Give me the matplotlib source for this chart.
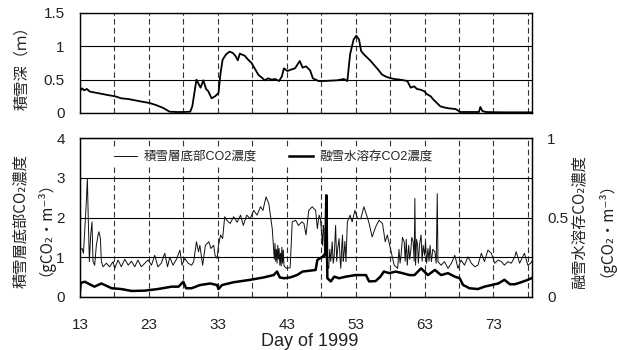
import matplotlib
matplotlib.use("Agg")
import matplotlib.pyplot as plt
import numpy as np

plt.rcParams['font.family'] = ['Liberation Sans', 'Noto Sans CJK JP', 'DejaVu Sans']
cjk = ['Noto Sans CJK JP', 'DejaVu Sans']

# ---- data ----
# snow depth (m)
snow_day = [13.0, 13.3, 13.6, 14.0, 14.45, 15.0, 16.0, 17.0, 18.1, 19.0, 20.0, 21.0, 22.0,
            23.1, 24.0, 25.0, 25.5, 26.0, 27.0, 28.0, 29.0, 29.3, 29.6, 29.9, 30.2, 30.5,
            30.9, 31.3, 31.6, 32.1, 32.6, 33.1, 33.4, 33.7, 34.2, 34.7, 35.2, 35.6, 35.9,
            36.2, 36.9, 37.4, 37.9, 38.4, 38.9, 39.4, 39.8, 40.3, 40.8, 41.3, 41.9, 42.3,
            42.6, 43.1, 43.6, 44.2, 44.9, 45.3, 45.8, 46.4, 46.8, 47.6, 48.5, 49.3, 50.3,
            51.3, 51.8, 52.2, 52.7, 53.1, 53.5, 53.8, 54.2, 54.7, 55.2, 55.6, 56.2, 56.8,
            57.3, 57.8, 58.6, 59.5, 60.5, 61.0, 61.5, 61.9, 62.4, 62.9, 63.4, 63.9, 64.3,
            64.8, 65.3, 65.8, 66.5, 67.5, 68.2, 69.0, 70.0, 70.9, 71.1, 71.4, 71.9, 73.0,
            75.0, 77.0, 78.6]
snow_depth = [0.33, 0.37, 0.34, 0.36, 0.32, 0.31, 0.29, 0.27, 0.25, 0.22, 0.21, 0.19, 0.17,
              0.15, 0.12, 0.08, 0.05, 0.02, 0.015, 0.015, 0.02, 0.10, 0.30, 0.50, 0.44, 0.38,
              0.49, 0.36, 0.33, 0.22, 0.25, 0.30, 0.60, 0.80, 0.88, 0.92, 0.90, 0.85, 0.79,
              0.89, 0.86, 0.80, 0.75, 0.66, 0.57, 0.53, 0.49, 0.52, 0.50, 0.51, 0.48, 0.55,
              0.67, 0.63, 0.65, 0.67, 0.78, 0.68, 0.70, 0.64, 0.52, 0.48, 0.48, 0.485, 0.49,
              0.51, 0.48, 0.88, 1.10, 1.16, 1.10, 0.93, 0.88, 0.83, 0.78, 0.73, 0.66, 0.58,
              0.55, 0.53, 0.51, 0.50, 0.48, 0.38, 0.40, 0.36, 0.35, 0.33, 0.28, 0.25, 0.20,
              0.15, 0.10, 0.085, 0.07, 0.06, 0.015, 0.015, 0.015, 0.015, 0.09, 0.03, 0.015,
              0.012, 0.01, 0.01, 0.01]

# CO2 at the base of the snowpack (gCO2/m3, left axis)
base_day = [13.0, 13.3, 13.5, 13.68, 13.92, 14.07, 14.2, 14.36, 14.55, 14.74, 14.89, 15.13,
            15.37, 15.62, 15.76, 15.96, 16.1, 16.34, 16.83, 17.3, 17.8, 18.04, 18.52, 19.0,
            19.5, 20.0, 20.46, 20.95, 21.4, 21.9, 22.4, 22.9, 23.37, 23.85, 24.3, 24.8,
            25.3, 25.7, 26.03, 26.5, 27.0, 27.5, 27.8, 28.2, 28.7, 29.2, 29.5, 29.9, 30.2,
            30.4, 30.8, 31.2, 31.7, 32.0, 32.4, 32.6, 32.9, 33.1, 33.4, 33.7, 34.0, 34.3,
            34.8, 35.3, 35.8, 36.3, 36.7, 37.2, 37.7, 38.2, 38.7, 39.2, 39.55, 40.0, 40.4,
            40.9, 41.1, 41.2, 41.3, 41.4, 41.5, 41.6, 41.7, 41.8, 41.9, 42.0, 42.1, 42.2,
            42.3, 42.4, 42.5, 42.6, 42.7, 43.0, 43.5, 43.8, 44.3, 44.7, 45.2, 45.5, 45.8,
            46.2, 46.7, 47.2, 47.45, 47.7, 47.9, 48.2, 48.3, 48.4, 48.5, 48.66, 48.8, 48.9,
            49.1, 49.25, 49.4, 49.6, 49.75, 49.9, 50.1, 50.25, 50.4, 50.6, 50.75, 50.85,
            51.0, 51.1, 51.2, 51.3, 51.45, 51.6, 51.8, 52.2, 52.5, 52.9, 53.3, 53.75, 54.2,
            54.6, 54.96, 55.4, 55.9, 56.4, 56.9, 57.3, 57.6, 58.1, 58.6, 59.1, 59.3, 59.45,
            59.6, 59.8, 60.05, 60.2, 60.35, 60.5, 60.7, 60.85, 61.0, 61.15, 61.35, 61.5,
            61.6, 61.7, 61.85, 62.0, 62.1, 62.3, 62.5, 62.65, 62.8, 63.0, 63.15, 63.3, 63.5,
            63.65, 63.8, 64.0, 64.2, 64.5, 64.7, 64.85, 64.95, 65.4, 65.9, 66.4, 66.9, 67.4,
            67.85, 68.3, 68.8, 69.3, 69.8, 70.3, 70.75, 71.25, 71.7, 72.2, 72.7, 73.2, 73.7,
            74.15, 74.6, 75.1, 75.6, 76.1, 76.3, 76.8, 77.5, 78.0, 78.4, 78.6]
base_co2 = [1.18, 1.22, 1.10, 1.64, 2.40, 2.98, 1.97, 0.89, 1.56, 1.89, 0.89, 0.80,
            1.30, 1.56, 1.64, 1.47, 0.89, 0.76, 0.85, 0.76, 0.89, 0.72, 0.93, 0.76,
            0.95, 0.80, 0.90, 0.76, 0.93, 0.76, 0.85, 0.93, 0.80, 1.05, 0.76, 0.85,
            1.10, 0.76, 1.00, 0.80, 0.95, 1.18, 0.80, 0.97, 0.85, 0.80, 0.89, 1.39, 1.14,
            1.30, 0.80, 1.30, 1.39, 1.22, 1.30, 1.05, 0.97, 1.30, 1.56, 1.47, 2.02, 1.93,
            1.85, 2.02, 1.88, 2.06, 1.80, 2.06, 1.97, 2.18, 2.06, 2.27, 2.18, 2.52, 2.35,
            1.72, 1.22, 0.95, 1.35, 0.90, 1.20, 0.85, 1.30, 0.95, 1.22, 0.80, 1.10, 0.78,
            1.25, 0.85, 1.18, 0.80, 0.76, 0.72, 0.74, 1.89, 1.93, 1.80, 1.89, 1.85, 1.56,
            2.18, 2.27, 2.18, 1.72, 2.06, 1.97, 1.30, 1.80, 1.72, 1.00, 1.05, 1.60, 0.80,
            0.72, 1.20, 0.90, 1.39, 0.85, 1.05, 1.80, 0.90, 1.22, 1.47, 0.95, 0.72,
            1.30, 1.56, 0.90, 1.05, 1.40, 0.89, 1.89, 2.06, 1.89, 2.18, 1.97, 1.97, 2.27,
            2.06, 1.85, 1.51, 1.76, 1.93, 1.85, 1.39, 1.56, 1.18, 0.80, 0.72, 1.20, 0.85,
            1.05, 1.50, 1.39, 0.90, 1.45, 0.80, 1.30, 0.95, 1.14, 1.50, 1.39, 0.90,
            2.48, 0.80, 1.45, 1.30, 0.85, 1.35, 1.56, 0.90, 1.30, 1.05, 1.40, 0.85, 1.22,
            0.90, 1.30, 0.89, 1.20, 1.14, 0.85, 2.60, 0.89, 0.80, 0.89, 0.72, 0.85, 1.05,
            0.72, 0.93, 0.80, 1.01, 0.85, 0.76, 0.80, 1.10, 0.89, 1.18, 1.10, 0.85, 0.93,
            0.89, 0.80, 0.89, 0.85, 1.01, 1.14, 0.85, 1.10, 0.80, 0.85, 0.90]

# CO2 dissolved in meltwater (gCO2/m3, right axis)
melt_day = [13.0, 13.1, 13.7, 14.4, 15.1, 16.1, 16.6, 17.6, 19.0, 20.5, 22.4, 24.3, 26.3,
            27.3, 28.0, 28.4, 29.2, 30.4, 31.9, 32.9, 33.1, 33.6, 35.3, 37.7, 39.65, 41.1,
            41.6, 42.0, 42.6, 43.5, 44.5, 45.3, 47.2, 47.45, 48.2, 48.6, 48.75, 48.9, 49.4,
            49.9, 50.6, 51.6, 53.0, 54.5, 54.96, 55.9, 56.6, 57.1, 57.9, 58.8, 59.8, 60.8,
            61.55, 62.5, 63.5, 64.5, 65.4, 66.4, 67.4, 68.1, 68.6, 69.1, 69.5, 70.75, 71.7,
            72.7, 73.7, 74.6, 75.4, 76.1, 77.05, 78.0, 78.5]
melt_co2 = [0.038, 0.088, 0.096, 0.080, 0.065, 0.085, 0.075, 0.055, 0.050, 0.038, 0.040,
            0.050, 0.065, 0.065, 0.096, 0.055, 0.055, 0.075, 0.085, 0.075, 0.050, 0.075,
            0.093, 0.108, 0.123, 0.138, 0.160, 0.123, 0.118, 0.123, 0.138, 0.160, 0.170,
            0.233, 0.253, 0.275, 0.640, 0.118, 0.098, 0.128, 0.118, 0.128, 0.138, 0.138,
            0.098, 0.100, 0.128, 0.160, 0.150, 0.160, 0.150, 0.138, 0.138, 0.180, 0.138,
            0.170, 0.138, 0.150, 0.128, 0.118, 0.075, 0.065, 0.055, 0.050, 0.065, 0.075,
            0.085, 0.108, 0.080, 0.080, 0.093, 0.108, 0.118]

major_days = np.arange(13, 74, 10)
minor_days = np.arange(18, 79, 10)
txt = '#222222'

fig = plt.figure(figsize=(6.18, 3.5), dpi=100)
W, H = 618, 350
ax_top = fig.add_axes([80 / W, 1 - 113 / H, 452 / W, 100 / H])
ax = fig.add_axes([80 / W, 1 - 297 / H, 452 / W, 159 / H])
ax2 = ax.twinx()

dash = dict(color='#333333', linestyle=(0, (5, 3)), linewidth=0.8)
solid = dict(color='black', linestyle='-', linewidth=0.8)

for a in (ax_top, ax):
    a.set_xlim(13, 78.6)
    a.set_xticks(major_days)
    a.set_xticks(minor_days, minor=True)
    a.grid(which='both', axis='x', **dash)
    a.grid(which='major', axis='y', **solid)
    a.set_axisbelow(True)
    a.tick_params(which='both', length=0, labelsize=11, labelcolor=txt)
    a.tick_params(axis='y', pad=11)
    for s in a.spines.values():
        s.set_linewidth(1.0)

# top: snow depth
ax_top.plot(snow_day, snow_depth, color='black', linewidth=1.3)
ax_top.set_ylim(0, 1.5)
ax_top.set_yticks([0, 0.5, 1, 1.5], ['0', '0.5', '1', '1.5'])
ax_top.tick_params(axis='x', labelbottom=False)

# bottom: CO2
l1, = ax.plot(base_day, base_co2, color='#111111', linewidth=0.7)
ax.set_ylim(0, 4)
ax.set_yticks([0, 1, 2, 3, 4])
ax.tick_params(axis='x', pad=15)

l2, = ax2.plot(melt_day, melt_co2, color='black', linewidth=1.8)
ax2.set_ylim(0, 1)
ax2.set_yticks([0, 0.5, 1], ['0', '0.5', '1'])
ax2.tick_params(length=0, labelsize=11, labelcolor=txt, pad=11)

leg = ax2.legend([l1, l2], ['積雪層底部CO2濃度', '融雪水溶存CO2濃度'], ncol=2,
                 loc='center left', bbox_to_anchor=(111 / W, 1 - 157 / H),
                 bbox_transform=fig.transFigure, fontsize=9, frameon=True,
                 facecolor='white', edgecolor='none', framealpha=1,
                 handlelength=1.9, handletextpad=0.5, columnspacing=2.6,
                 borderpad=0.2, borderaxespad=0)
for t in leg.get_texts():
    t.set_color(txt)

# axis titles
lab = dict(rotation=90, ha='center', va='center', multialignment='center',
           fontsize=11, color=txt, family=cjk)
fig.text(22 / W, 1 - 64 / H, '積雪深（ｍ）', **lab)
fig.text(29 / W, 1 - 221 / H, '積雪層底部CO₂濃度\n（gCO₂・m⁻³）', linespacing=0.95, **lab)
fig.text(589 / W, 1 - 222 / H, '融雪水溶存CO₂濃度\n（gCO₂・m⁻³）', linespacing=1.1, **lab)
fig.text(310 / W, 1 - 342 / H, 'Day of 1999', ha='center', va='center',
         fontsize=13, color=txt)

fig.savefig('out.png', dpi=100)
